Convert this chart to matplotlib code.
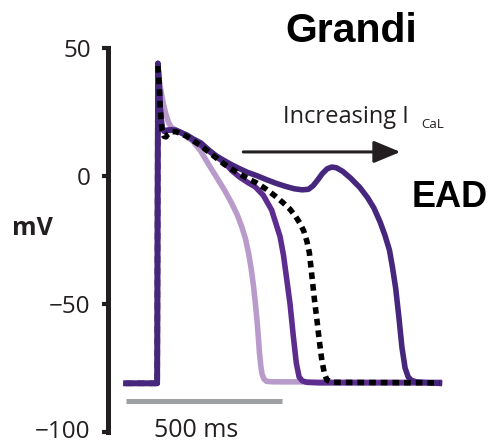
import numpy as np
import matplotlib
matplotlib.use("Agg")
import matplotlib.pyplot as plt
from matplotlib.transforms import ScaledTranslation

# action potentials (time in ms, voltage in mV)
t_light = [-100, -2, 0, 2, 6, 12, 20, 28, 36, 45, 60, 75, 95, 115, 138, 155, 175, 196, 218, 239, 256,
           271, 283, 293, 301, 309, 315, 320, 324, 328, 332, 336, 342, 351, 370, 905]
v_light = [-81, -81, -81, 43, 38, 33, 28, 24, 21, 19, 18, 17, 15.3, 13.5, 10, 6.5, 2.5, -1.6, -6, -10.7, -15,
           -19.8, -24.5, -30.2, -36, -43.2, -50, -56.3, -62.5, -69.3, -74, -77.3, -79.3, -80.2, -80.4, -80.5]

t_mid = [-100, -2, 0, 2, 6, 10, 15, 22, 30, 45, 60, 75, 95, 115, 140, 165, 190, 218, 240, 265, 290,
         314, 340, 367, 394, 405, 415, 426, 436, 446, 455, 465, 480, 520, 905]
v_mid = [-81, -81, -81, 44, 36, 26, 19, 17.5, 17.8, 18, 17.8, 17, 15.8, 14, 12, 9.8, 7.5, 5, 2, -0.5, -2.5,
         -4.2, -7.5, -13.3, -23.7, -31, -40, -50, -62, -73, -78.5, -80, -80.6, -80.8, -80.8]

t_dot = [-100, -2, 0, 2, 6, 10, 15, 22, 28, 35, 45, 60, 75, 95, 115, 140, 165, 190, 215, 240, 265, 290,
         320, 350, 380, 405, 426, 445, 458, 470, 480, 488, 496, 504, 512, 520, 528, 536, 544, 560, 905]
v_dot = [-81, -81, -81, 43, 36, 25, 18, 15.5, 15.3, 16.5, 17.3, 17.3, 16.6, 15.5, 13.8, 11.8, 9.4, 7, 4.6, 2.6,
         0.8, -1, -2.8, -5.2, -8, -10.6, -13, -16, -18.5, -21.5, -25.5, -30, -39, -48, -56, -64.5, -72, -77,
         -79.7, -80.6, -80.8]

t_ead = [-100, -2, 0, 2, 6, 10, 15, 22, 30, 45, 60, 75, 95, 115, 140, 165, 190, 215, 240, 265, 290, 320,
         350, 380, 410, 440, 465, 485, 500, 515, 530, 545, 560, 575, 595, 620, 650, 675, 695, 715, 730, 745,
         755, 765, 775, 785, 795, 805, 815, 830, 860, 905]
v_ead = [-81, -81, -81, 44, 36, 26, 19, 17.5, 17.8, 18, 17.8, 17, 16, 14.5, 12.9, 10.2, 7.8, 6, 4.3, 2.8, 1.4,
         0.1, -1.4, -2.8, -4, -5, -5.4, -5.2, -3.8, -1.5, 1, 2.8, 3.5, 3.2, 1.8, -0.8, -4.5, -8.5, -12.5, -18,
         -23, -29, -36, -44, -55, -67, -75, -78.5, -79.8, -80.4, -80.7, -81]

yticks = [-100, -50, 0, 50]
ytick_labels = ["\u2212100", "\u221250", "0", "50"]

W, H = 488, 443
fig = plt.figure(figsize=(W / 100, H / 100), dpi=100)
ax = fig.add_axes([108 / W, 11 / H, 1 - 108 / W, 384 / H])
ax.set_xlim(-158, 1061)
ax.set_ylim(-100, 50)

lw = 4.0
ax.plot(t_light, v_light, color="#b99bcb", lw=lw, solid_joinstyle="round", zorder=2)
# rest + upstroke of the dotted trace sit under the purple ones
ax.plot(t_dot[:4], v_dot[:4], color="black", lw=lw, dashes=(1.2, 0.9), dash_capstyle="butt", zorder=2.2)
ax.plot(t_mid, v_mid, color="#5c2c8f", lw=lw, solid_joinstyle="round", zorder=2.4)
ax.plot(t_ead, v_ead, color="#46277d", lw=lw, solid_joinstyle="round", zorder=2.6)
ax.plot(t_dot[3:], v_dot[3:], color="black", lw=lw, dashes=(1.2, 0.9), dash_capstyle="butt", zorder=2.8)

# scale bar 500 ms
ax.plot([-100, 400], [-88, -88], color="#9fa0a3", lw=3.6, solid_capstyle="butt", clip_on=False)

# arrow
ax.annotate("", xy=(780, 9.4), xytext=(276, 9.4),
            arrowprops=dict(arrowstyle="-|>,head_length=0.65,head_width=0.27", lw=2.2,
                            color="#231f20", mutation_scale=25, shrinkA=0, shrinkB=0))

for s in ["top", "right", "bottom"]:
    ax.spines[s].set_visible(False)
ax.spines["left"].set_linewidth(3.6)
ax.spines["left"].set_color("#231f20")
ax.set_xticks([])
ax.set_yticks(yticks)
ax.set_yticklabels(ytick_labels, family=["Open Sans", "DejaVu Sans"], fontsize=17.5, color="#231f20")
ax.tick_params(axis="y", length=4.5, width=3, color="#231f20", pad=8)
# nudge the bottom label up a touch so it stays inside the canvas
lab = ax.yaxis.get_major_ticks()[0].label1
lab.set_transform(lab.get_transform() + ScaledTranslation(0, 2.5 / 72, fig.dpi_scale_trans))
ax.patch.set_alpha(0)


def px(x, y):
    return x / W, 1 - y / H


fig.text(*px(351, 42), "Grandi", ha="center", va="baseline", fontsize=29.5, fontweight="bold",
         family="Liberation Sans")
fig.text(*px(412, 207), "EAD", ha="left", va="baseline", fontsize=26, fontweight="bold",
         family="Liberation Sans")
fig.text(*px(12, 235), "mV", ha="left", va="baseline", fontsize=18, fontweight="bold",
         family="Open Sans", color="#231f20")
fig.text(*px(283, 123), "Increasing I", ha="left", va="baseline", fontsize=17,
         family="Open Sans", color="#231f20")
fig.text(*px(421, 128), "CaL", ha="left", va="baseline", fontsize=9.5,
         family="Open Sans", color="#231f20")
fig.text(*px(196, 437), "500 ms", ha="center", va="baseline", fontsize=18,
         family="Open Sans", color="#231f20")

plt.savefig("out.png", dpi=100)
